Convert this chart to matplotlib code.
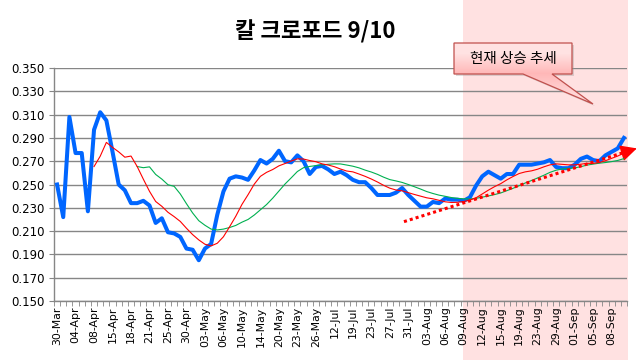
import numpy as np
import pandas as pd
import matplotlib
matplotlib.use('Agg')
import matplotlib.pyplot as plt
from matplotlib.patches import Rectangle, Polygon

plt.rcParams['font.family'] = ['Noto Sans CJK KR', 'DejaVu Sans']

title = '칼 크로포드 9/10'
note = '현재 상승 추세'

# one label every 3 games
date_labels = ['30-Mar', '04-Apr', '08-Apr', '15-Apr', '18-Apr', '21-Apr', '25-Apr',
               '30-Apr', '03-May', '06-May', '10-May', '14-May', '20-May', '23-May',
               '26-May', '12-Jul', '19-Jul', '23-Jul', '27-Jul', '31-Jul', '03-Aug',
               '06-Aug', '09-Aug', '12-Aug', '15-Aug', '19-Aug', '23-Aug', '29-Aug',
               '01-Sep', '05-Sep', '08-Sep']

# batting average by game
avg = [0.250, 0.222, 0.308, 0.277, 0.277, 0.227, 0.297, 0.312, 0.305, 0.278,
       0.250, 0.245, 0.234, 0.234, 0.236, 0.232, 0.217, 0.221, 0.209, 0.208,
       0.205, 0.195, 0.194, 0.185, 0.195, 0.199, 0.224, 0.244, 0.255, 0.257,
       0.256, 0.254, 0.262, 0.271, 0.268, 0.272, 0.279, 0.270, 0.269, 0.275,
       0.270, 0.259, 0.265, 0.266, 0.263, 0.259, 0.261, 0.258, 0.254, 0.252,
       0.252, 0.247, 0.241, 0.241, 0.241, 0.243, 0.247, 0.241, 0.236, 0.231,
       0.231, 0.235, 0.234, 0.238, 0.237, 0.237, 0.236, 0.239, 0.249, 0.257,
       0.261, 0.258, 0.255, 0.259, 0.259, 0.267, 0.267, 0.267, 0.268, 0.269,
       0.271, 0.265, 0.264, 0.264, 0.267, 0.272, 0.274, 0.271, 0.270, 0.275,
       0.278, 0.281, 0.290]

# moving average trendlines (7 and 14 games), like the excel chart
s = pd.Series(avg)
ma7 = s.rolling(7).mean()
ma14 = s.rolling(14).mean()

W, H = 641, 360
fig = plt.figure(figsize=(W / 100, H / 100), dpi=100)

# pink background block behind the recent part
bg = fig.add_axes([0, 0, 1, 1])
bg.set_xlim(0, W)
bg.set_ylim(H, 0)
bg.axis('off')
bg.set_zorder(-1)
bg.add_patch(Rectangle((463, 0), 165, H, color='#FFE1E1', lw=0))

ax = fig.add_axes([54 / W, 1 - 301 / H, 573 / W, 233 / H])
ax.set_facecolor('none')
x = np.arange(len(avg))
ax.plot(x, avg, color='#0066FF', lw=2.9, solid_joinstyle='round', zorder=3)
ax.plot(x, ma14, color='#00B050', lw=0.8, zorder=4)
ax.plot(x, ma7, color='#FF0000', lw=0.8, zorder=4)

ax.set_xlim(-0.5, len(avg) - 0.5)
ax.set_ylim(0.150, 0.350)
ax.set_yticks(np.arange(0.150, 0.3501, 0.020))
ax.set_yticklabels(['%.3f' % v for v in np.arange(0.150, 0.3501, 0.020)],
                   family='DejaVu Sans', fontsize=8.5)
ax.set_xticks(x[::3])
ax.set_xticklabels(date_labels, rotation=90, family='DejaVu Sans', fontsize=7.8)
ax.set_xticks(np.arange(-0.5, len(avg), 1), minor=True)
ax.tick_params(axis='x', which='major', length=0, pad=4)
ax.tick_params(axis='x', which='minor', length=3.5, color='#868686')
ax.tick_params(axis='y', length=3.5, color='#868686', pad=3)
ax.yaxis.grid(True, color='#868686', lw=1.0)
ax.set_axisbelow(True)
for sp in ['top', 'right']:
    ax.spines[sp].set_visible(False)
for sp in ['left', 'bottom']:
    ax.spines[sp].set_color('#868686')
    ax.spines[sp].set_linewidth(1.0)

# dotted trend arrow
ax.plot([56.3, 92.1], [0.2181, 0.2777], color='red', lw=2.2, linestyle=(0, (1, 1)),
        clip_on=False, zorder=5)
ax.annotate('', xy=(94.1, 0.281), xytext=(92.1, 0.2777), annotation_clip=False,
            arrowprops=dict(arrowstyle='-|>,head_length=1.0,head_width=0.5',
                            color='red', lw=1, mutation_scale=10, shrinkA=0, shrinkB=0))

fig.text(315.5 / W, 1 - 32 / H, title, ha='center', va='center', fontsize=16,
         fontweight='bold')

# callout box
ov = fig.add_axes([0, 0, 1, 1])
ov.set_xlim(0, W)
ov.set_ylim(H, 0)
ov.axis('off')
ov.set_zorder(5)
pts = [(454, 43), (572, 43), (572, 74), (552, 74), (593, 104), (523, 74), (454, 74)]
shadow = Polygon([(px + 2, py + 2) for px, py in pts], closed=True, fc='#999999',
                 ec='none', alpha=0.35)
ov.add_patch(shadow)
shape = Polygon(pts, closed=True, fc='none', ec='#C0504D', lw=0.9, zorder=3)
ov.add_patch(shape)
grad = np.array([[1.0, 0.89, 0.89], [1.0, 0.72, 0.72], [1.0, 0.84, 0.84]])
img = ov.imshow(grad[:, None, :], extent=(454, 593, 104, 43), aspect='auto',
                interpolation='bilinear', zorder=2)
img.set_clip_path(shape)
ov.text(513, 59, note, ha='center', va='center', fontsize=10.5, zorder=4)

fig.savefig('out.png', dpi=100)
